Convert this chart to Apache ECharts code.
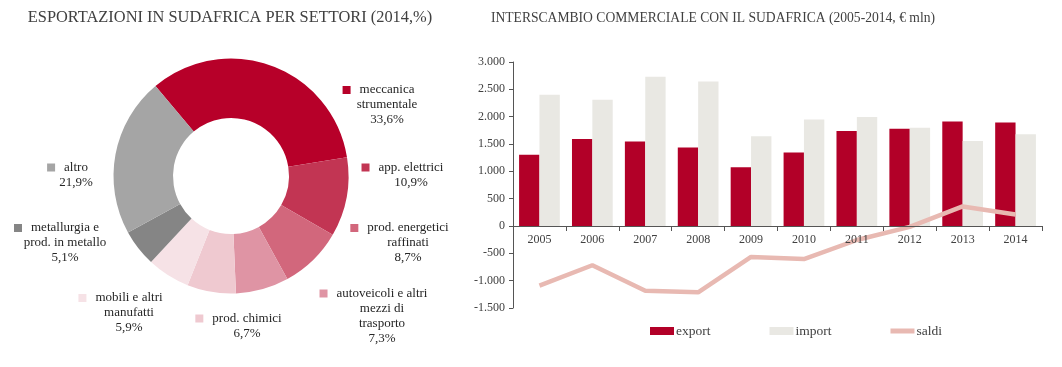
<!DOCTYPE html>
<html>
<head>
<meta charset="utf-8">
<script src="https://cdn.jsdelivr.net/npm/echarts@6/dist/echarts.min.js"></script>
<style>
html,body{margin:0;padding:0;background:#fff;}
#c{width:1062px;height:367px;}
</style>
</head>
<body>
<div id="c"></div>
<script>
// ---- data ----
const sectors = ['meccanica\nstrumentale', 'app. elettrici', 'prod. energetici\nraffinati', 'autoveicoli e altri\nmezzi di\ntrasporto', 'prod. chimici', 'mobili e altri\nmanufatti', 'metallurgia e\nprod. in metallo', 'altro'];
const sectorShares = [33.6, 10.9, 8.7, 7.3, 6.7, 5.9, 5.1, 21.9];
const years = ['2005', '2006', '2007', '2008', '2009', '2010', '2011', '2012', '2013', '2014'];
const exportVals = [1305, 1590, 1545, 1435, 1075, 1345, 1740, 1778, 1910, 1892];
const importVals = [2400, 2308, 2730, 2643, 1643, 1947, 1996, 1795, 1557, 1680];
const saldiVals = [-1090, -718, -1185, -1212, -565, -604, -256, -15, 358, 210];
const seriesNames = ['export', 'import', 'saldi'];
const yMin = -1500, yMax = 3000, yStep = 500;

// ---- styles / layout ----
const pieColors = ['#B70029', '#C23553', '#D2677C', '#DF94A4', '#EFC9D0', '#F6E2E6', '#858585', '#A5A5A5'];
const labelCentres = [[387, 105], [411, 175], [408, 243], [382, 316], [247, 326], [129, 313], [65, 243], [76, 175]];
const serif = '"Liberation Serif", "DejaVu Serif", serif';
const gridTop = 62, gridBottom = 59, chartH = 367;
const plotH = chartH - gridTop - gridBottom;
const xAxisOffset = -((0 - yMin) / (yMax - yMin)) * plotH;

function fmtPct(v) { return v.toFixed(1).replace('.', ',') + '%'; }
function fmtNum(v) {
  const s = Math.abs(v).toFixed(0).replace(/\B(?=(\d{3})+(?!\d))/g, '.');
  return (v < 0 ? '-' : '') + s;
}

const rich = { p: { width: 17 }, s: { width: 9 } };
pieColors.forEach((c, i) => {
  rich['m' + i] = { width: 8, height: 8, backgroundColor: c };
});
Object.keys(rich).forEach(k => { rich[k].lineHeight = 15; });

const pieData = sectors.map((n, i) => ({ name: n, value: sectorShares[i], itemStyle: { color: pieColors[i] } }));

const chart = echarts.init(document.getElementById('c'), null, { renderer: 'canvas' });
chart.setOption({
  animation: false,
  backgroundColor: '#ffffff',
  textStyle: { fontFamily: serif },
  title: [
    { text: 'ESPORTAZIONI IN SUDAFRICA PER SETTORI (2014,%)', left: 225, textAlign: 'center', top: 5,
      textStyle: { fontFamily: serif, fontSize: 16.4, fontWeight: 'normal', color: '#404040' } },
    { text: 'INTERSCAMBIO COMMERCIALE CON IL SUDAFRICA (2005-2014, € mln)', left: 708, textAlign: 'center', top: 6,
      textStyle: { fontFamily: serif, fontSize: 13.6, fontWeight: 'normal', color: '#404040' } }
  ],
  legend: {
    data: [
      { name: seriesNames[0], icon: 'rect' },
      { name: seriesNames[1], icon: 'rect' },
      { name: seriesNames[2], icon: 'path://M0,0 M0,1.5 L24,1.5 L24,6.5 L0,6.5 Z M0,8' }
    ],
    left: 645, top: 319, itemWidth: 24, itemHeight: 8, itemGap: 59,
    textStyle: { fontFamily: serif, fontSize: 13.5, color: '#404040', padding: [0, 0, 0, -3] },
    selectedMode: false
  },
  grid: { left: 513, right: 20, top: gridTop, bottom: gridBottom, containLabel: false },
  xAxis: {
    type: 'category', data: years, offset: xAxisOffset,
    axisLine: { onZero: false, lineStyle: { color: '#555', width: 1 } },
    axisTick: { show: true, length: 5, lineStyle: { color: '#555' } },
    axisLabel: { fontFamily: serif, fontSize: 12, color: '#404040', margin: 8 },
    z: 10
  },
  yAxis: {
    type: 'value', min: yMin, max: yMax, interval: yStep,
    axisLine: { show: true, lineStyle: { color: '#555', width: 1 } },
    axisTick: { show: true, length: 4, lineStyle: { color: '#555' } },
    splitLine: { show: false },
    axisLabel: { fontFamily: serif, fontSize: 12, color: '#404040', margin: 8, formatter: fmtNum }
  },
  series: [
    {
      type: 'pie', center: [231, 176], radius: [58, 117.5], startAngle: 130, clockwise: true,
      data: pieData, avoidLabelOverlap: false,
      label: {
        show: true, position: 'outside', fontFamily: serif, fontSize: 13, lineHeight: 15, color: '#262626', align: 'center',
        formatter: function (p) {
          const lines = p.name.split('\n');
          lines[0] = '{m' + p.dataIndex + '| }{s| }' + lines[0] + '{p| }';
          lines.push(fmtPct(p.value));
          return lines.join('\n');
        },
        rich: rich
      },
      labelLine: { show: false },
      labelLayout: function (params) {
        const c = labelCentres[params.dataIndex];
        return { x: c[0], y: c[1], align: 'center', verticalAlign: 'middle' };
      },
      emphasis: { disabled: true }
    },
    {
      name: seriesNames[0], type: 'bar', data: exportVals, barGap: '0%', barCategoryGap: '23%',
      itemStyle: { color: '#B20028' }
    },
    {
      name: seriesNames[1], type: 'bar', data: importVals, barGap: '0%', barCategoryGap: '23%',
      itemStyle: { color: '#E9E8E3' }
    },
    {
      name: seriesNames[2], type: 'line', data: saldiVals, symbol: 'none', z: 5,
      lineStyle: { color: '#E8B9B2', width: 4.5 }, itemStyle: { color: '#E8B9B2' }
    }
  ]
});
</script>
</body>
</html>
